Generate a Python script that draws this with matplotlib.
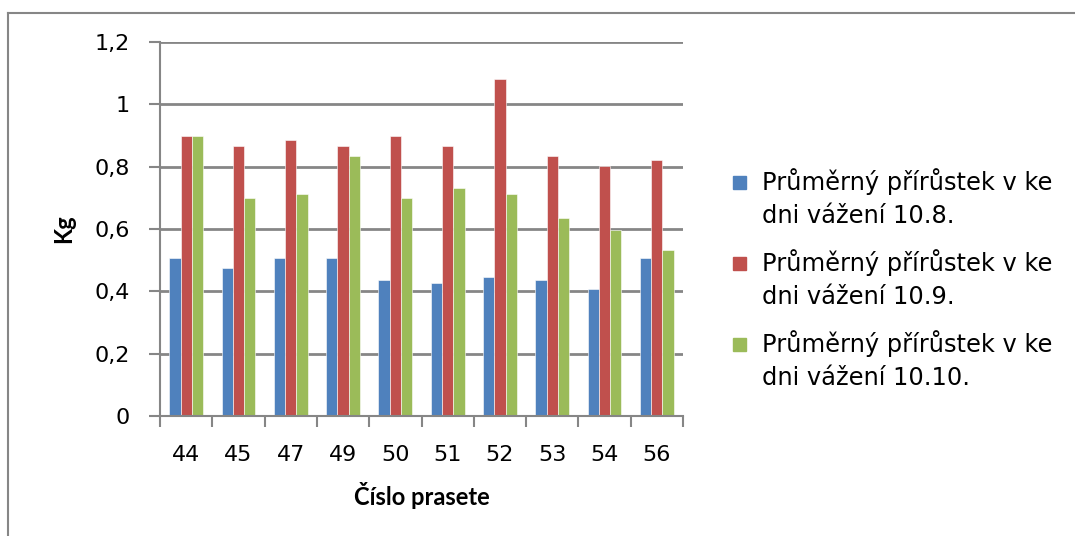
import numpy as np
import matplotlib.pyplot as plt
from matplotlib.patches import Rectangle
from matplotlib.lines import Line2D

plt.rcParams['font.family'] = ['DejaVu Sans']

pigs = ['44', '45', '47', '49', '50', '51', '52', '53', '54', '56']
gain_aug = [0.506, 0.474, 0.506, 0.506, 0.436, 0.428, 0.447, 0.435, 0.409, 0.506]
gain_sep = [0.899, 0.867, 0.887, 0.867, 0.899, 0.867, 1.080, 0.835, 0.803, 0.822]
gain_oct = [0.899, 0.699, 0.713, 0.835, 0.699, 0.731, 0.713, 0.635, 0.597, 0.532]
series_names = ['Průměrný přírůstek v ke\ndni vážení 10.8.',
                'Průměrný přírůstek v ke\ndni vážení 10.9.',
                'Průměrný přírůstek v ke\ndni vážení 10.10.']
yticks = [0, 0.2, 0.4, 0.6, 0.8, 1.0, 1.2]

colors = ['#4f81bd', '#c0504d', '#9bbb59']
grid_c = '#868686'
title_font = ['Liberation Sans Narrow', 'Lato', 'DejaVu Sans']

fig = plt.figure(figsize=(10.75, 5.36), dpi=100)
W, H = 1075, 536

# chart frame (only top and left edges fall inside the image)
fig.add_artist(Line2D([8 / W, 1.0], [1 - 13 / H, 1 - 13 / H], color=grid_c, lw=1.5))
fig.add_artist(Line2D([8 / W, 8 / W], [0, 1 - 13 / H], color=grid_c, lw=1.5))

ax = fig.add_axes([160 / W, 1 - 416 / H, 523 / W, 374 / H])

x = np.arange(len(pigs))
bw = 0.216
for i, vals in enumerate([gain_aug, gain_sep, gain_oct]):
    ax.bar(x + (i - 1) * bw, vals, width=bw, color=colors[i],
           edgecolor='white', linewidth=0.4, zorder=3)

ax.set_xlim(-0.5, len(pigs) - 0.5)
ax.set_ylim(0, 1.2)
ax.set_yticks(yticks)
ax.set_yticklabels([('%g' % v).replace('.', ',') for v in yticks], fontsize=16)
ax.set_xticks(x)
ax.set_xticklabels(pigs, fontsize=16)
ax.set_xticks(np.arange(-0.5, len(pigs), 1), minor=True)
ax.tick_params(axis='x', which='major', length=0, pad=21)
ax.tick_params(axis='x', which='minor', length=8, width=1.5, color=grid_c)
ax.tick_params(axis='y', length=8, width=1.5, color=grid_c, pad=14)
ax.yaxis.grid(True, color=grid_c, lw=2, zorder=0)
for s in ['top', 'right']:
    ax.spines[s].set_visible(False)
for s in ['left', 'bottom']:
    ax.spines[s].set_color(grid_c)
    ax.spines[s].set_linewidth(1.5)
ax.spines['bottom'].set_zorder(4)

ax.set_xlabel('Číslo prasete', fontsize=17, fontweight='bold', labelpad=12,
              family=title_font)
ax.set_ylabel('Kg', fontsize=17, fontweight='bold', labelpad=14,
              family=title_font)

# legend: colour square next to the first line of each two-line entry
for i, name in enumerate(series_names):
    yc = 182 + i * 81
    fig.add_artist(Rectangle((733 / W, 1 - (yc + 6.5) / H), 13 / W, 13 / H,
                             color=colors[i], transform=fig.transFigure))
    fig.text(762 / W, 1 - (yc - 14) / H, name, fontsize=17.4, va='top', ha='left',
             linespacing=1.5)

fig.savefig('out.png', dpi=100)
